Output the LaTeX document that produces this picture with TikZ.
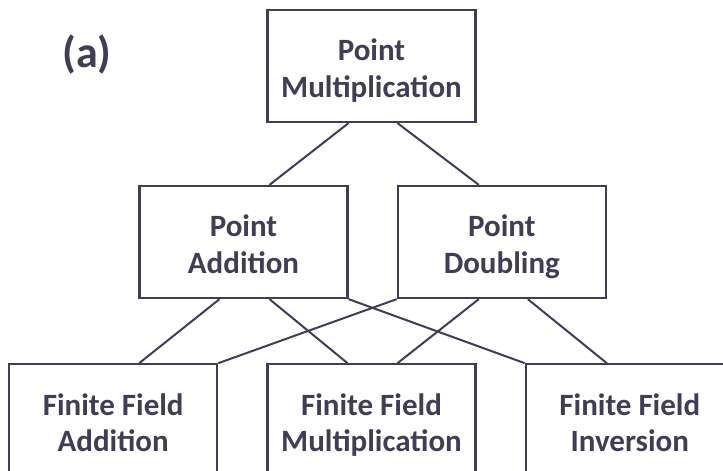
\documentclass[tikz,border=0pt]{standalone}
\usepackage{fontspec}
\setmainfont{Carlito}
\usetikzlibrary{positioning,calc}
\definecolor{slate}{RGB}{64,62,86}
\newcommand{\twolines}[2]{\rule{0pt}{35pt}#1\\#2\rule[-9pt]{0pt}{9pt}}
\tikzset{
    blockbox/.style={draw=slate,line width=2.3pt,minimum width=208pt,minimum height=112pt,
        inner sep=0pt,align=center,text=slate,font=\bfseries\fontsize{31}{36.5}\selectfont},
    link/.style={draw=slate,line width=2pt}
}

\begin{document}
\begin{tikzpicture}[x=1pt,y=1pt]
    \useasboundingbox (0,0) rectangle (723,-471);

    \node[text=slate,font=\bfseries\fontsize{44}{50}\selectfont] (lbl) at (87,-55) {(a)};

    \node[blockbox] (pm) at (371.5,-66) {\twolines{Point}{Multiplication}};
    \node[blockbox] (pa) at ($(pm)+(-128,-176)$) {\twolines{Point}{Addition}};
    \node[blockbox,right=48pt of pa] (pd) {\twolines{Point}{Doubling}};

    \node[blockbox,below=240pt of pm] (ffm) {\twolines{Finite Field}{Multiplication}};
    \node[blockbox,left=48pt of ffm] (ffa) {\twolines{Finite Field}{Addition}};
    \node[blockbox,right=48pt of ffm] (ffi) {\twolines{Finite Field}{Inversion}};

    \draw[link] ($(pm.south)+(-23,0)$) -- ($(pa.north)+(26,0)$);
    \draw[link] ($(pm.south)+(26,0)$) -- ($(pd.north)+(-23,0)$);

    \draw[link] ($(pa.south)+(-24,0)$) -- ($(ffa.north)+(26,0)$);
    \draw[link] ($(pa.south)+(26,0)$) -- ($(ffm.north)+(-24,0)$);
    \draw[link] (pa.south east) -- (ffi.north west);

    \draw[link] (pd.south west) -- (ffa.north east);
    \draw[link] ($(pd.south)+(-23,0)$) -- ($(ffm.north)+(26,0)$);
    \draw[link] ($(pd.south)+(26,0)$) -- ($(ffi.north)+(-23,0)$);
\end{tikzpicture}
\end{document}
